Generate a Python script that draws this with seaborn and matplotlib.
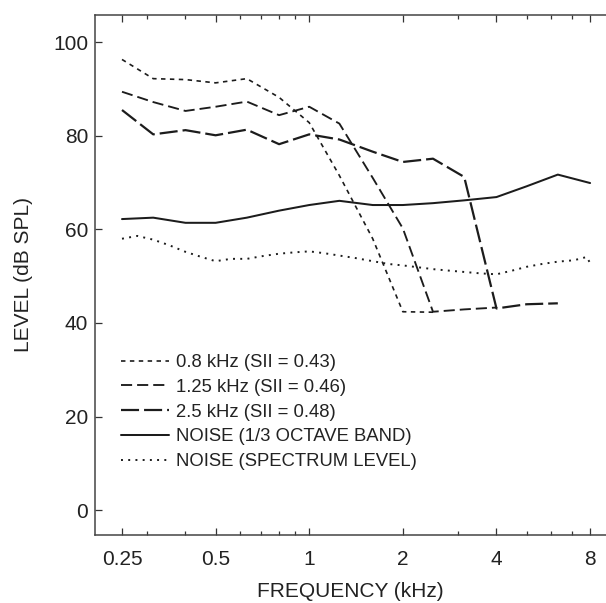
import matplotlib
matplotlib.use("Agg")
import matplotlib.pyplot as plt
from matplotlib.ticker import FixedLocator, NullFormatter
import seaborn as sns
import pandas as pd

# 1/3-octave centre frequencies (kHz)
freq = [0.25, 0.315, 0.4, 0.5, 0.63, 0.8, 1.0, 1.25, 1.6, 2.0, 2.5, 3.15, 4.0, 5.0, 6.3, 8.0]

# signal levels (dB SPL), each curve stops where the trace stops
sig_08 = [96.3, 92.2, 92.0, 91.3, 92.2, 88.2, 82.8, 71.5, 58.0, 42.4, 42.3]
sig_125 = [89.4, 87.2, 85.3, 86.2, 87.3, 84.4, 86.2, 82.6, 71.0, 60.2, 42.4, 42.9, 43.3]
sig_25 = [85.5, 80.3, 81.2, 80.1, 81.3, 78.2, 80.3, 79.2, 76.6, 74.4, 75.1, 71.2, 43.1, 44.0, 44.2]
noise_band = [62.2, 62.5, 61.4, 61.4, 62.5, 64.0, 65.2, 66.1, 65.2, 65.2, 65.6, 66.2, 66.9, 69.2, 71.7, 69.9]

# spectrum level is sampled more finely
spec_freq = [0.25, 0.28, 0.315, 0.355, 0.4, 0.45, 0.5, 0.56, 0.63, 0.71, 0.8, 0.9,
             1.0, 1.12, 1.25, 1.4, 1.6, 1.8, 2.0, 2.24, 2.5, 2.8, 3.15, 3.55,
             4.0, 4.5, 5.0, 5.6, 6.3, 7.1, 7.8, 8.0]
noise_spec = [58.0, 58.6, 57.8, 56.6, 55.2, 54.1, 53.2, 53.7, 53.7, 54.3, 54.8, 55.1,
              55.3, 54.9, 54.4, 53.9, 53.2, 52.6, 52.3, 51.9, 51.5, 51.2, 50.9, 50.6,
              50.4, 51.2, 52.0, 52.6, 53.1, 53.4, 54.1, 52.8]

labels = ["0.8 kHz (SII = 0.43)", "1.25 kHz (SII = 0.46)", "2.5 kHz (SII = 0.48)",
          "NOISE (1/3 OCTAVE BAND)", "NOISE (SPECTRUM LEVEL)"]

x_ticks = [0.25, 0.5, 1, 2, 4, 8]
x_ticklabels = ["0.25", "0.5", "1", "2", "4", "8"]
x_minor = [0.3, 0.4, 0.6, 0.7, 0.8, 0.9, 3, 5, 6, 7]
y_ticks = [0, 20, 40, 60, 80, 100]

series = [
    (freq[:len(sig_08)], sig_08),
    (freq[:len(sig_125)], sig_125),
    (freq[:len(sig_25)], sig_25),
    (freq, noise_band),
    (spec_freq, noise_spec),
]
df = pd.concat(
    [pd.DataFrame({"freq": f, "level": v, "series": lab}) for (f, v), lab in zip(series, labels)],
    ignore_index=True,
)

sns.set_theme(style="ticks")
plt.rcParams["font.family"] = ["Liberation Sans", "DejaVu Sans"]
plt.rcParams["lines.scale_dashes"] = False

ink = "#1c1c1c"
styles = {
    labels[0]: dict(lw=1.2, ls=(0, (3.2, 3.2))),
    labels[1]: dict(lw=1.35, ls=(0, (8.0, 3.6))),
    labels[2]: dict(lw=1.6, ls=(0, (13.0, 3.6))),
    labels[3]: dict(lw=1.45, ls="-"),
    labels[4]: dict(lw=1.4, ls=(0, (1.4, 3.8))),
}

fig = plt.figure(figsize=(6.06, 6.03), dpi=100)
ax = fig.add_axes([95 / 606, 68 / 603, 1 - 95 / 606, 520 / 603])

for lab in labels:
    sub = df[df["series"] == lab]
    sns.lineplot(data=sub, x="freq", y="level", ax=ax, color=ink, label=lab,
                 estimator=None, sort=False, linewidth=styles[lab]["lw"],
                 linestyle=styles[lab]["ls"])

ax.set_xscale("log")
ax.set_xlim(0.2047, 9.0)
ax.set_ylim(-5.3, 105.8)
ax.xaxis.set_major_locator(FixedLocator(x_ticks))
ax.set_xticks(x_ticks, x_ticklabels)
ax.xaxis.set_minor_locator(FixedLocator(x_minor))
ax.xaxis.set_minor_formatter(NullFormatter())
ax.set_yticks(y_ticks)

ax.tick_params(axis="both", which="major", direction="in", length=5, width=0.9,
               color="#333333", labelsize=15, labelcolor="#222222")
ax.tick_params(axis="x", which="major", top=True, pad=11)
ax.tick_params(axis="y", which="major", pad=5)
ax.tick_params(axis="x", which="minor", direction="in", top=True, length=3, width=0.9,
               color="#333333")

for side in ["left", "bottom", "top"]:
    ax.spines[side].set_linewidth(1.1)
    ax.spines[side].set_color("#444444")
ax.spines["right"].set_visible(False)

ax.set_xlabel("FREQUENCY (kHz)", fontsize=15, color="#222222", labelpad=9)
ax.set_ylabel("LEVEL (dB SPL)", fontsize=15, color="#222222", labelpad=14)

ax.legend(loc="upper left", bbox_to_anchor=(0.051, 0.348), frameon=False,
          fontsize=13.3, handlelength=2.6, handletextpad=0.4, labelspacing=0.42,
          borderpad=0, borderaxespad=0, labelcolor="#222222")

fig.savefig("out.png", dpi=100)
